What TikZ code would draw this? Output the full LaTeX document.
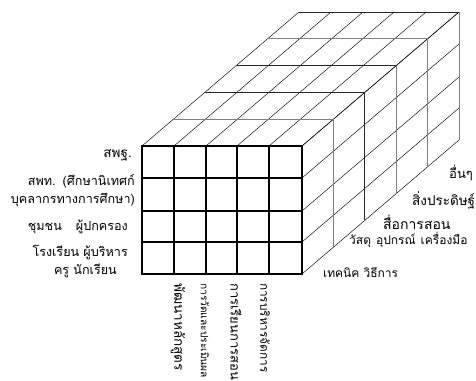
\documentclass[tikz,border=0pt]{standalone}
\usepackage{fontspec}
\newfontfamily\thai[Script=Thai]{Loma}
\begin{document}
\begin{tikzpicture}[x=1pt,y=-1pt,
  front/.style={line width=1.2pt,black},
  dline/.style={line width=0.45pt,black},
  darkframe/.style={line width=0.9pt,black!85},
  grayframe/.style={line width=0.9pt,black!50},
  lbl/.style={font=\thai\fontsize{12.6}{18}\selectfont,inner sep=0pt},
  fs/.style={font=\thai\fontsize{#1}{18}\selectfont},
  rlbl/.style={lbl,rotate=-90,anchor=west}]
\useasboundingbox (0,0) rectangle (476,380);
\def\dx{31.4}\def\dy{-26.8}
% named corner coordinates
\coordinate (ftl) at (142,146);
\coordinate (fbr) at (302,274);
% top face diagonals
\foreach \xc [count=\i] in {142,174,206,237,269,302}{
  \coordinate (tc\i) at (\xc,146);
  \coordinate (tb\i) at (\xc+157,12);
  \draw[dline] (tc\i) -- (tb\i);
}
% right face diagonals
\foreach \yr [count=\i] in {146,178,211,242,274}{
  \coordinate (rc\i) at (302,\yr);
  \coordinate (rb\i) at (459,\yr-134);
  \draw[dline] (rc\i) -- (rb\i);
}
% layer frames
\foreach \k/\hs/\vs in {1/grayframe/grayframe,2/darkframe/darkframe,3/darkframe/grayframe,4/grayframe/grayframe,5/darkframe/grayframe}{
  \coordinate (la\k) at (142+\k*\dx,146+\k*\dy);
  \coordinate (lb\k) at (302+\k*\dx,146+\k*\dy);
  \coordinate (lc\k) at (302+\k*\dx,274+\k*\dy);
  \draw[\hs] (la\k) -- (lb\k);
  \draw[\vs] (lb\k) -- (lc\k);
}
% front face grid
\foreach \xc [count=\i] in {174,206,237,269}{
  \coordinate (fv\i) at (\xc,146);
  \coordinate (fw\i) at (\xc,274);
  \draw[front] (fv\i) -- (fw\i);
}
\foreach \yr [count=\i] in {178,211,242}{
  \coordinate (fh\i) at (142,\yr);
  \coordinate (fk\i) at (302,\yr);
  \draw[front] (fh\i) -- (fk\i);
}
\draw[front] (ftl) rectangle (fbr);
% left labels
\node[lbl,fs=13.5,anchor=east] (l1) at (132,155) {สพฐ.};
\node[lbl,anchor=east,align=right] (l2) at (135,191) {สพท.\hspace{7pt}(ศึกษานิเทศก์\\บุคลากรทางการศึกษา)};
\node[lbl,anchor=east] (l3) at (128,227) {ชุมชน\hspace{14pt}ผู้ปกครอง};
\node[lbl,anchor=east,align=right] (l4) at (128,261) {โรงเรียน ผู้บริหาร\\ครู นักเรียน\hspace*{11pt}};
% depth labels
\node[lbl,fs=12,anchor=west] (d1) at (323,272) {เทคนิค วิธีการ};
\node[lbl,fs=12,anchor=west] (d2) at (349,240) {วัสดุ\hspace{5pt}อุปกรณ์\hspace{5pt}เครื่องมือ};
\node[lbl,fs=14,anchor=west] (d3) at (383,222) {สื่อการสอน};
\node[lbl,fs=13.5,anchor=west] (d4) at (412,200) {สิ่งประดิษฐ์};
\node[lbl,fs=13,anchor=west] (d5) at (449,173) {อื่นๆ};
% bottom labels
\node[rlbl,fs=13.5] (b1) at (178,283) {พัฒนาหลักสูตร};
\node[rlbl,fs=10.2] (b2) at (205,283) {การวัดและประเมินผล};
\node[rlbl,fs=13] (b3) at (236,283) {การเรียนการสอน};
\node[rlbl,fs=11.8] (b4) at (265,283) {การบริหารจัดการ};
\end{tikzpicture}
\end{document}
